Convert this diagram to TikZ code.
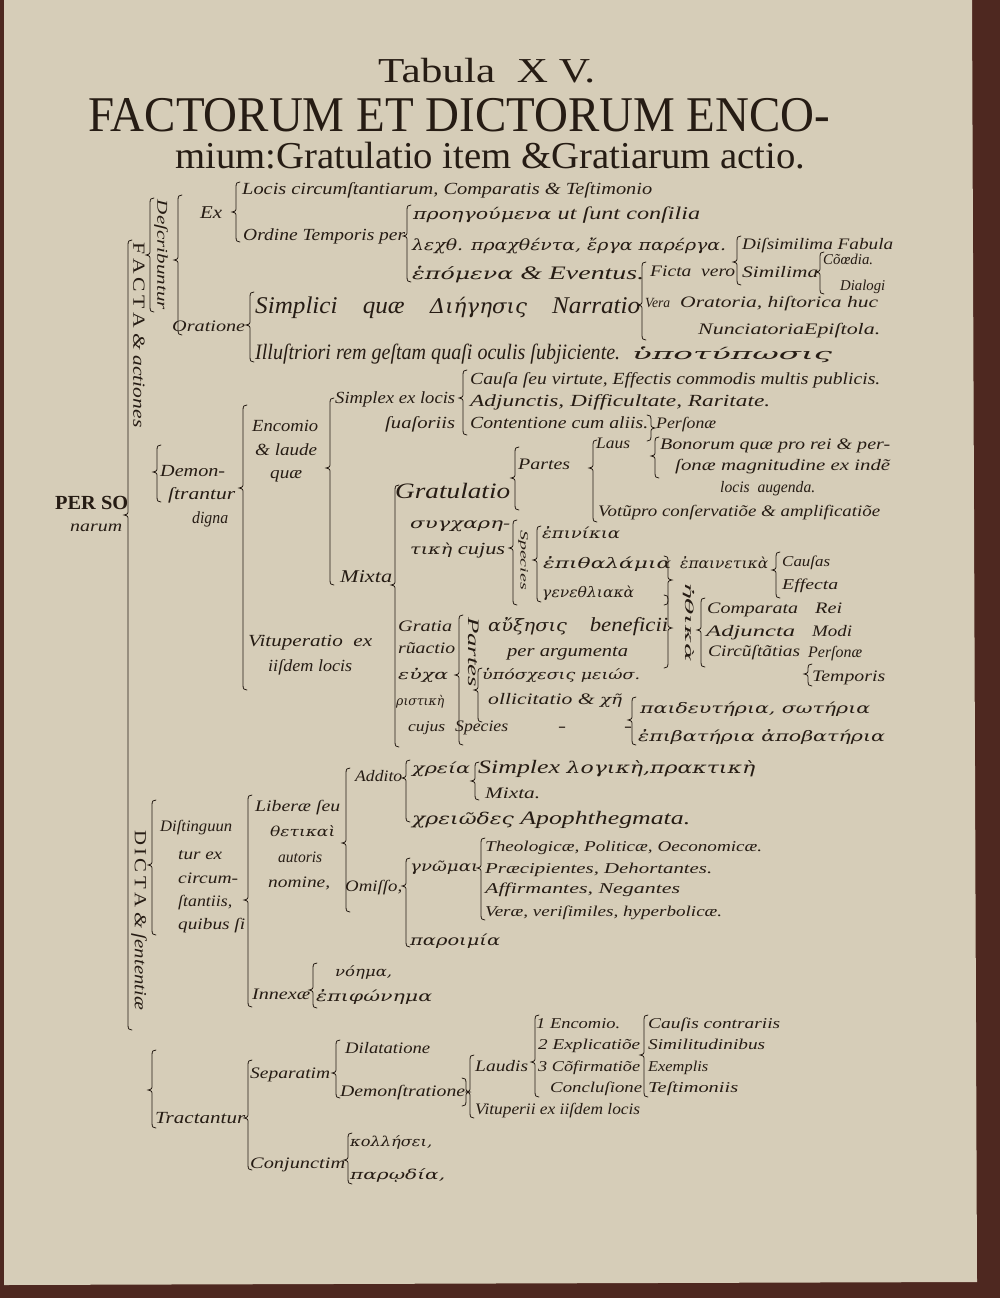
\documentclass[tikz,border=0pt]{standalone}
\usepackage{fontspec}
\usepackage{graphicx}
\setmainfont{Liberation Serif}
\newfontfamily\gr[Scale=0.85]{DejaVu Serif}
\definecolor{paper}{RGB}{214,205,184}
\definecolor{ink}{RGB}{38,28,20}
\definecolor{edgec}{RGB}{78,40,32}
\newcommand\tx[6]{\node[anchor=base west,inner sep=0pt,font=\fontsize{#4}{#4}\selectfont\itshape] (#1) at (#2,#3) {\resizebox{#5pt}{\height}{#6}};}
\newcommand\tr[6]{\node[anchor=base west,inner sep=0pt,font=\fontsize{#4}{#4}\selectfont] (#1) at (#2,#3) {\resizebox{#5pt}{\height}{#6}};}
\newcommand\rt[6]{\node[rotate=-90,inner sep=0pt,font=\fontsize{#4}{#4}\selectfont\itshape] (#1) at (#2,#3) {\resizebox{#5pt}{\height}{#6}};}
\newcommand\Lb[4]{\draw[brc] (#1+4,#2) .. controls (#1+1,#2) and (#1,#2+1) .. (#1,#2+5) -- (#1,#3-5) .. controls (#1,#3-1) .. (#1-4,#3) .. controls (#1,#3+1) .. (#1,#3+5) -- (#1,#4-5) .. controls (#1,#4-1) and (#1+1,#4) .. (#1+4,#4);}
\newcommand\Rb[4]{\draw[brc] (#1-4,#2) .. controls (#1-1,#2) and (#1,#2+1) .. (#1,#2+5) -- (#1,#3-5) .. controls (#1,#3-1) .. (#1+4,#3) .. controls (#1,#3+1) .. (#1,#3+5) -- (#1,#4-5) .. controls (#1,#4-1) and (#1-1,#4) .. (#1-4,#4);}
\begin{document}
\begin{tikzpicture}[x=1pt,y=-1pt,every node/.style={text=ink},brc/.style={draw=ink,line width=0.8pt,line cap=round}]
\useasboundingbox (0,0) rectangle (1000,1298);
\fill[edgec] (0,0) rectangle (1000,1298);
\fill[paper] (4,0) -- (972,0) -- (977,1282) -- (4,1285) -- cycle;
% title
\tr{title1}{378}{82}{35}{217}{Tabula\ \ X V.}
\tr{title2}{88}{131}{50}{742}{FACTORUM ET DICTORUM ENCO-}
\tr{title3}{175}{168}{38}{630}{mium:Gratulatio item \&Gratiarum actio.}
% FACTA
\rt{descr}{161}{255}{15}{110}{Deſcribuntur}
\rt{facta}{139}{335}{17}{185}{\upshape F\,A\,C\,T\,A \itshape\&\ actiones}
\tx{ex}{200}{218}{18}{22}{Ex}
\tx{loci}{242}{194}{17}{410}{Locis circumſtantiarum, Comparatis \& Teſtimonio}
\tx{ordine}{243}{240}{17}{162}{Ordine Temporis per}
\tx{proeg}{413}{219}{18}{287}{{\gr προηγούμενα} ut ſunt conſilia}
\tx{lecht}{412}{250}{18}{314}{{\gr λεχθ. πραχθέντα, ἔργα παρέργα.}}
\tx{dissim}{742}{249}{16}{151}{Diſsimilima Fabula}
\tx{hepom}{412}{279}{19}{232}{{\gr ἑπόμενα} \& Eventus.}
\tx{ficta}{650}{276}{16}{85}{Ficta\ \ vero}
\tx{simil}{742}{277}{16}{76}{Similima}
\tx{comoe}{823}{264}{15}{50}{Cõœdia.}
\tx{dial}{840}{290}{15}{45}{Dialogi}
\tx{simpl}{255}{313}{24}{385}{Simplici\quad quæ\quad {\gr Διήγησις}\quad Narratio}
\tx{vera}{645}{307}{14}{25}{Vera}
\tx{orat}{680}{307}{16}{198}{Oratoria, hiſtorica huc}
\tx{nunc}{698}{334}{16}{182}{NunciatoriaEpiſtola.}
\tx{oratione}{172}{331}{16}{73}{Oratione}
\tx{illus}{255}{359}{22}{365}{Illuſtriori rem geſtam quaſi oculis ſubjiciente.}
\tx{hypot}{632}{359}{18}{200}{{\gr ὑποτύπωσις}}
% Encomio
\tx{simplex}{335}{403}{17}{120}{Simplex ex locis}
\tx{suas}{385}{428}{17}{70}{ſuaſoriis}
\tx{causa}{470}{384}{17}{410}{Cauſa ſeu virtute, Effectis commodis multis publicis.}
\tx{adj}{470}{406}{17}{300}{Adjunctis, Difficultate, Raritate.}
\tx{cont}{470}{428}{17}{178}{Contentione cum aliis.}
\tx{perso1}{656}{428}{16}{60}{Perſonæ}
\tx{encom}{252}{431}{17}{66}{Encomio}
\tx{laude}{255}{455}{17}{62}{\& laude}
\tx{quae}{270}{478}{17}{32}{quæ}
\tx{demon}{160}{476}{17}{65}{Demon-}
\tx{strant}{168}{499}{17}{67}{ſtrantur}
\tx{digna}{192}{523}{17}{36}{digna}
\tr{persoR}{55}{509}{20}{73}{\bfseries PER SO}
\tx{narum}{70}{531}{16}{52}{narum}
\tx{mixta1}{340}{582}{18}{52}{Mixta}
\tx{vitup}{248}{646}{17}{124}{Vituperatio\ \ ex}
\tx{iisdem}{268}{671}{17}{84}{iiſdem locis}
% Gratulatio
\tx{gratul}{395}{498}{22}{115}{Gratulatio}
\tx{partes1}{518}{469}{16}{52}{Partes}
\tx{laus}{596}{448}{16}{34}{Laus}
\tx{bonor}{660}{449}{16}{230}{Bonorum quæ pro rei \& per-}
\tx{sonae}{675}{470}{16}{215}{ſonæ magnitudine ex indẽ}
\tx{locis}{720}{492}{16}{95}{locis\ \ augenda.}
\tx{votum}{598}{516}{16}{282}{Votũpro conſervatiõe \& amplificatiõe}
\tx{synch}{410}{528}{17}{100}{{\gr συγχαρη-}}
\tx{tike}{410}{554}{17}{95}{{\gr τικὴ} cujus}
\rt{spec1}{523}{560}{11}{60}{Species}
\tx{epin}{542}{538}{17}{78}{{\gr ἐπινίκια}}
\tx{epith}{543}{568}{17}{128}{{\gr ἐπιθαλάμια}}
\tx{epain}{680}{568}{17}{88}{{\gr ἐπαινετικὰ}}
\tx{causas}{782}{566}{15}{48}{Cauſas}
\tx{effecta}{782}{589}{15}{56}{Effecta}
\tx{geneth}{542}{597}{17}{92}{{\gr γενεθλιακὰ}}
\rt{rotgr}{689}{622}{13}{80}{{\gr ἠθικὰ}}
\tx{compar}{707}{613}{16}{91}{Comparata}
\tx{rei}{815}{613}{16}{27}{Rei}
\tx{adjun}{706}{636}{16}{89}{Adjuncta}
\tx{modi}{812}{636}{16}{40}{Modi}
\tx{circ}{708}{656}{16}{92}{Circũſtãtias}
\tx{perso2}{808}{657}{16}{54}{Perſonæ}
\tx{tempor}{812}{681}{16}{73}{Temporis}
% Gratiarum actio
\tx{gratia}{398}{631}{16}{54}{Gratia}
\tx{ruact}{398}{653}{16}{57}{rũactio}
\tx{eucha}{398}{679}{16}{50}{{\gr εὐχα}}
\tx{risti}{396}{705}{15}{48}{{\gr ριστικὴ}}
\tx{cujus2}{408}{731}{15}{37}{cujus}
\rt{partes2}{474}{652}{16}{70}{Partes}
\tx{auxes}{488}{631}{20}{180}{{\gr αὔξησις}\quad beneficii}
\tx{perarg}{507}{656}{17}{121}{per argumenta}
\tx{hyposc}{482}{679}{16}{158}{{\gr ὑπόσχεσις μειώσ.}}
\tx{sollic}{488}{704}{16}{134}{ollicitatio \& {\gr χῆ}}
\tx{spec2}{455}{731}{16}{53}{Species}
\tx{d1}{558}{731}{16}{8}{-}
\tx{d2}{624}{731}{16}{8}{-}
\tx{paid}{640}{713}{17}{230}{{\gr παιδευτήρια, σωτήρια}}
\tx{epib}{638}{741}{17}{247}{{\gr ἐπιβατήρια ἀποβατήρια}}
% DICTA
\rt{dicta}{139}{920}{17}{180}{\upshape D\,I\,C\,T\,A \itshape\& ſententiæ}
\tx{disting}{160}{831}{16}{72}{Diſtinguun}
\tx{turex}{178}{859}{16}{44}{tur ex}
\tx{circum}{178}{883}{16}{60}{circum-}
\tx{stantiis}{178}{906}{16}{54}{ſtantiis,}
\tx{quibus}{178}{929}{16}{67}{quibus ſi}
\tx{liberae}{255}{811}{16}{85}{Liberæ ſeu}
\tx{thetik}{270}{836}{16}{65}{{\gr θετικαὶ}}
\tx{autoris}{278}{862}{16}{44}{autoris}
\tx{nomine}{268}{887}{16}{62}{nomine,}
\tx{addito}{355}{781}{16}{47}{Addito}
\tx{chreia}{412}{773}{17}{58}{{\gr χρεία}}
\tx{simplex2}{478}{773}{19}{277}{Simplex {\gr λογικὴ,πρακτικὴ}}
\tx{mixta2}{485}{798}{16}{55}{Mixta.}
\tx{chreiod}{412}{824}{19}{278}{{\gr χρειῶδες} Apophthegmata.}
\tx{omisso}{345}{891}{16}{57}{Omiſſo,}
\tx{gnomai}{410}{871}{17}{68}{{\gr γνῶμαι}}
\tx{theol}{485}{851}{15}{277}{Theologicæ, Politicæ, Oeconomicæ.}
\tx{praec}{485}{873}{15}{227}{Præcipientes, Dehortantes.}
\tx{affirm}{485}{893}{15}{195}{Affirmantes, Negantes}
\tx{verae}{485}{916}{15}{237}{Veræ, veriſimiles, hyperbolicæ.}
\tx{paroim}{410}{945}{17}{90}{{\gr παροιμία}}
\tx{noema}{335}{976}{16}{57}{{\gr νόημα,}}
\tx{innexae}{252}{999}{16}{58}{Innexæ}
\tx{epiph}{316}{1001}{17}{116}{{\gr ἐπιφώνημα}}
% Tractantur
\tx{tract}{155}{1123}{17}{90}{Tractantur}
\tx{separ}{250}{1078}{16}{80}{Separatim}
\tx{dilat}{345}{1053}{16}{85}{Dilatatione}
\tx{demonst}{340}{1096}{16}{125}{Demonſtratione}
\tx{laudis}{475}{1071}{16}{53}{Laudis}
\tx{vitup2}{475}{1114}{16}{165}{Vituperii ex iiſdem locis}
\tx{enc2}{536}{1028}{15}{84}{1 Encomio.}
\tx{expl}{538}{1049}{15}{102}{2 Explicatiõe}
\tx{confir}{538}{1071}{15}{102}{3 Cõfirmatiõe}
\tx{concl}{550}{1092}{15}{92}{Concluſione}
\tx{causis}{648}{1028}{15}{132}{Cauſis contrariis}
\tx{simil2}{648}{1049}{15}{117}{Similitudinibus}
\tx{exempl}{648}{1071}{15}{60}{Exemplis}
\tx{testim}{648}{1092}{15}{90}{Teſtimoniis}
\tx{conj}{250}{1168}{16}{95}{Conjunctim}
\tx{kolle}{350}{1146}{16}{82}{{\gr κολλήσει,}}
\tx{parod}{350}{1179}{16}{95}{{\gr παρῳδία,}}
% braces
\Lb{150}{198}{255}{312}
\Lb{178}{195}{260}{335}
\Lb{236}{182}{212}{242}
\Lb{407}{205}{236}{282}
\Lb{642}{262}{305}{340}
\Lb{737}{236}{262}{285}
\Lb{820}{252}{272}{294}
\Lb{250}{292}{325}{362}
\Lb{128}{240}{515}{1030}
\Lb{157}{445}{472}{502}
\Lb{243}{405}{488}{690}
\Lb{330}{398}{468}{585}
\Lb{463}{370}{398}{435}
\Rb{651}{415}{428}{441}
\Lb{395}{485}{585}{747}
\Lb{515}{447}{478}{510}
\Lb{593}{440}{468}{522}
\Lb{655}{437}{456}{478}
\Lb{513}{520}{548}{605}
\Lb{537}{526}{560}{602}
\Lb{776}{552}{570}{598}
\Rb{668}{556}{580}{605}
\Lb{701}{598}{630}{667}
\Lb{808}{664}{674}{686}
\Lb{459}{615}{675}{745}
\Rb{668}{595}{628}{668}
\Lb{478}{668}{690}{722}
\Lb{632}{697}{720}{745}
\Lb{152}{800}{865}{935}
\Lb{152}{1050}{1090}{1128}
\Lb{248}{795}{900}{1007}
\Lb{346}{768}{843}{912}
\Lb{406}{760}{778}{822}
\Lb{475}{762}{781}{800}
\Lb{406}{858}{886}{947}
\Lb{481}{838}{868}{920}
\Lb{313}{963}{990}{1008}
\Lb{248}{1060}{1118}{1170}
\Lb{336}{1040}{1073}{1098}
\Rb{466}{1078}{1092}{1106}
\Lb{470}{1055}{1092}{1118}
\Lb{535}{1015}{1062}{1097}
\Lb{644}{1015}{1055}{1097}
\Lb{348}{1133}{1160}{1184}
\end{tikzpicture}
\end{document}
